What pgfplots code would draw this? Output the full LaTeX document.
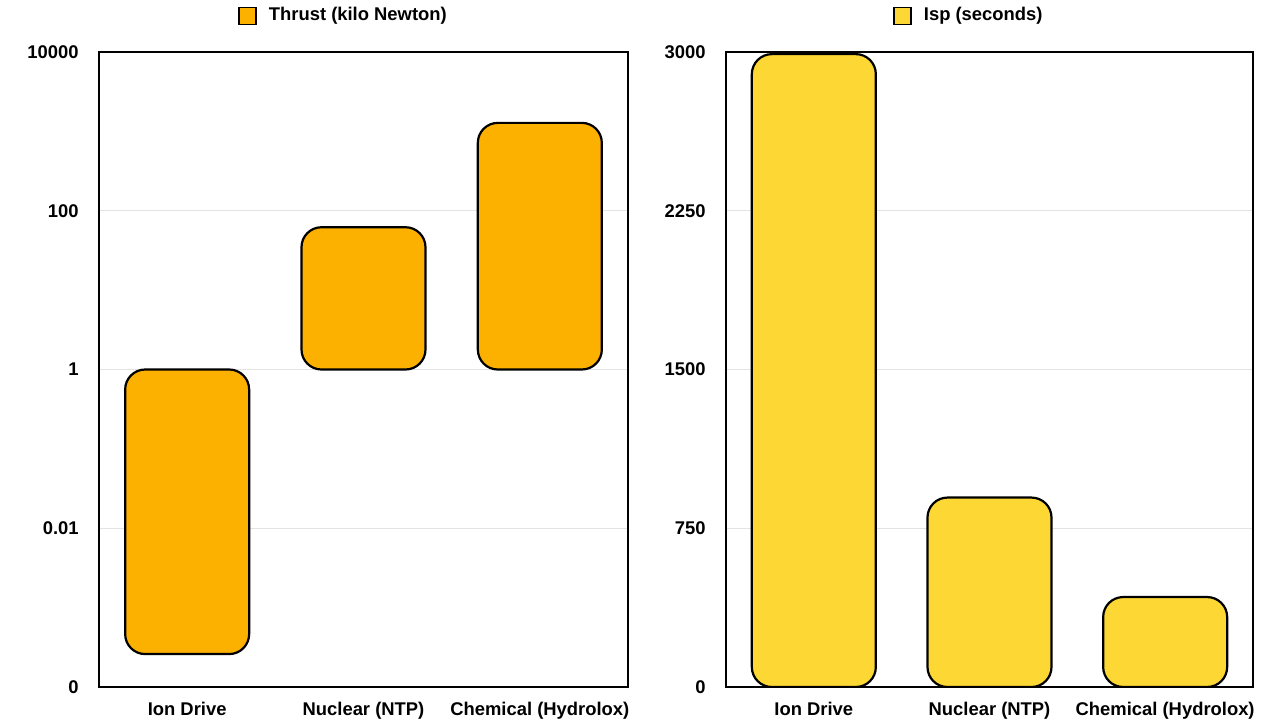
\documentclass[border=0pt]{standalone}
\usepackage{fontspec}
\setmainfont{Liberation Sans}
\usepackage{pgfplots}
\usepackage{pgfplotstable}
\pgfplotsset{compat=1.18}

\definecolor{thrustorange}{HTML}{FCB000}
\definecolor{ispyellow}{HTML}{FDD835}
\definecolor{gridgray}{HTML}{E3E3E3}

% thrust in kN, bars start at 1 kN (log origin)
\pgfplotstableread{
idx thrust
0   0.00026
1   62
2   1280
}\thrustdata

% specific impulse in s
\pgfplotstableread{
idx isp
0   2990
1   895
2   425
}\ispdata

\pgfplotsset{
  engine/.style={
    scale only axis,
    height=317.5pt,
    xmin=-0.5, xmax=2.5,
    xtick={0,1,2},
    xticklabels={Ion Drive, Nuclear (NTP), Chemical (Hydrolox)},
    major tick length=0pt,
    ymajorgrids, grid style={gridgray, line width=0.6pt},
    axis line style={line width=0.9pt},
    /pgf/number format/assume math mode=true,
    /pgf/number format/1000 sep={},
    scaled y ticks=false,
    tick label style={font=\fontsize{9.2}{11}\selectfont\bfseries, inner sep=0pt},
    xticklabel style={anchor=base, yshift=-14pt},
    yticklabel style={anchor=east, xshift=-10pt},
    ybar, bar width=62pt,
    legend style={draw=none, fill=none, inner sep=0pt, outer sep=0pt, anchor=west,
      nodes={inner sep=0pt, font=\fontsize{9.2}{11}\selectfont\bfseries}},
    legend cell align=left,
    legend image code/.code={
      \draw[##1, sharp corners, line width=0.8pt] (0pt,-4.25pt) rectangle (8.5pt,4.25pt);
      \path (14.5pt,0pt);
    },
  },
  barstyle/.style={fill=#1, draw=black, line width=1.1pt, rounded corners=10pt},
}

\begin{document}
\begin{tikzpicture}
\useasboundingbox (0,0) rectangle (640pt,360pt);

\begin{axis}[engine,
  at={(49.5pt,16.5pt)}, anchor=south west,
  width=264.5pt,
  ymode=log, log origin y=0,
  ymin=1e-4, ymax=1e4,
  ytick={1e-4,1e-2,1,1e2,1e4},
  yticklabels={0,0.01,1,100,10000},
  legend style={at={(0.2628,1.057)}},
]
\addplot[barstyle=thrustorange] table[x=idx, y=thrust] {\thrustdata};
\addlegendentry{Thrust (kilo Newton)}
\end{axis}

\begin{axis}[engine,
  at={(363pt,16.5pt)}, anchor=south west,
  width=263.5pt,
  ymin=0, ymax=3000,
  ytick={0,750,1500,2250,3000},
  legend style={at={(0.3169,1.057)}},
]
\addplot[barstyle=ispyellow] table[x=idx, y=isp] {\ispdata};
\addlegendentry{Isp (seconds)}
\end{axis}
\end{tikzpicture}
\end{document}
